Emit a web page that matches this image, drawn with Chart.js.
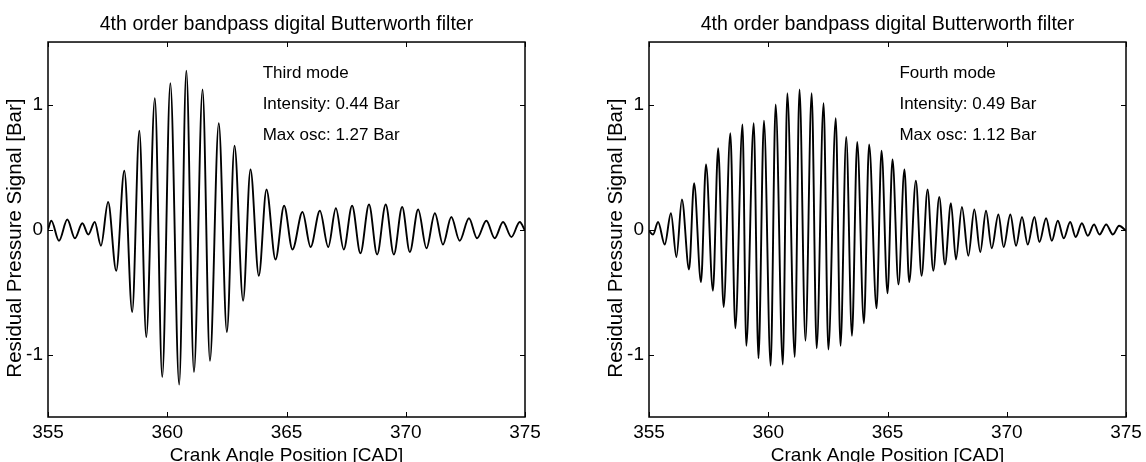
<!DOCTYPE html>
<html lang="en">
<head>
  <meta charset="UTF-8">
  <title>4th order bandpass digital Butterworth filter</title>
  <script src="https://cdn.jsdelivr.net/npm/chart.js"></script>
  <style>
    html, body { margin: 0; padding: 0; background: #fff; overflow: hidden; }
    canvas { position: absolute; top: 0; }
    #third { left: 0; }
    #fourth { left: 601px; }
  </style>
</head>
<body>
  <canvas id="third" width="573" height="462"></canvas>
  <canvas id="fourth" width="573" height="462"></canvas>

  <script>
    // peaks and troughs (CAD, bar)
    const thirdCad = [355.0, 355.14, 355.46, 355.81, 356.13, 356.44, 356.69, 356.96, 357.22, 357.52,
      357.86, 358.20, 358.53, 358.83, 359.12, 359.48, 359.79, 360.13, 360.50, 360.80,
      361.12, 361.48, 361.79, 362.16, 362.50, 362.82, 363.18, 363.49, 363.84, 364.16,
      364.54, 364.90, 365.25, 365.67, 366.01, 366.40, 366.75, 367.07, 367.40, 367.75,
      368.10, 368.46, 368.80, 369.16, 369.50, 369.85, 370.17, 370.52, 370.87, 371.22,
      371.56, 371.91, 372.26, 372.65, 372.99, 373.38, 373.73, 374.08, 374.43, 374.78, 375.0];
    const thirdVal = [0.0, 0.07, -0.09, 0.08, -0.07, 0.05, -0.04, 0.06, -0.13, 0.22,
      -0.33, 0.47, -0.66, 0.79, -0.86, 1.05, -1.18, 1.17, -1.24, 1.27,
      -1.14, 1.12, -1.05, 0.85, -0.82, 0.67, -0.57, 0.48, -0.37, 0.32,
      -0.24, 0.19, -0.16, 0.14, -0.14, 0.15, -0.14, 0.17, -0.16, 0.19,
      -0.19, 0.20, -0.20, 0.20, -0.20, 0.18, -0.18, 0.16, -0.15, 0.13,
      -0.12, 0.10, -0.09, 0.09, -0.07, 0.07, -0.07, 0.06, -0.06, 0.06, -0.01];

    const fourthCad = [355.00, 355.17, 355.38, 355.66, 355.92, 356.15, 356.38, 356.68, 356.89, 357.18,
      357.39, 357.68, 357.90, 358.13, 358.41, 358.62, 358.92, 359.08, 359.39, 359.59,
      359.82, 360.10, 360.31, 360.61, 360.80, 361.11, 361.31, 361.56, 361.82, 362.03,
      362.32, 362.52, 362.83, 363.03, 363.27, 363.51, 363.73, 364.01, 364.23, 364.54,
      364.75, 365.00, 365.21, 365.46, 365.71, 365.91, 366.19, 366.43, 366.68, 366.92,
      367.17, 367.41, 367.66, 367.87, 368.12, 368.39, 368.64, 368.89, 369.13, 369.37,
      369.65, 369.87, 370.15, 370.39, 370.64, 370.88, 371.16, 371.37, 371.65, 371.89,
      372.14, 372.39, 372.66, 372.89, 373.15, 373.40, 373.66, 373.89, 374.17, 374.45,
      374.71, 375.00];
    const fourthVal = [-0.01, -0.04, 0.06, -0.12, 0.13, -0.22, 0.24, -0.32, 0.37, -0.42,
      0.52, -0.49, 0.65, -0.62, 0.77, -0.79, 0.84, -0.93, 0.85, -1.03,
      0.87, -1.09, 1.00, -1.08, 1.09, -1.02, 1.12, -0.89, 1.09, -0.95,
      1.01, -0.96, 0.89, -0.93, 0.74, -0.85, 0.70, -0.75, 0.68, -0.63,
      0.63, -0.51, 0.56, -0.44, 0.48, -0.42, 0.39, -0.37, 0.32, -0.33,
      0.26, -0.28, 0.21, -0.24, 0.18, -0.21, 0.16, -0.18, 0.15, -0.15,
      0.12, -0.14, 0.12, -0.13, 0.10, -0.12, 0.10, -0.10, 0.09, -0.09,
      0.07, -0.07, 0.06, -0.06, 0.05, -0.05, 0.04, -0.04, 0.04, -0.04,
      0.03, -0.01];

    const xTicks = [355, 360, 365, 370, 375];
    const yTicks = [-1, 0, 1];
    const thirdNotes = ['Third mode', 'Intensity: 0.44 Bar', 'Max osc: 1.27 Bar'];
    const fourthNotes = ['Fourth mode', 'Intensity: 0.49 Bar', 'Max osc: 1.12 Bar'];
    const noteRows = [1.25, 1.0, 0.75];

    const FAMILY = '"Liberation Sans", Arial, Helvetica, sans-serif';
    const big = { family: FAMILY, size: 19, weight: 'normal', lineHeight: 1.2 };

    // box, inward tick marks and the text notes
    const framePlugin = {
      id: 'frame',
      afterDraw(chart, args, opts) {
        const { ctx, chartArea: a, scales: { x, y } } = chart;
        ctx.save();
        ctx.strokeStyle = '#000';
        ctx.lineWidth = 1.5;
        ctx.strokeRect(a.left, a.top, a.width, a.height);
        ctx.lineWidth = 1;
        ctx.beginPath();
        x.ticks.forEach(t => {
          const px = Math.round(x.getPixelForValue(t.value)) + 0.5;
          ctx.moveTo(px, a.bottom); ctx.lineTo(px, a.bottom - 5);
          ctx.moveTo(px, a.top); ctx.lineTo(px, a.top + 5);
        });
        y.ticks.forEach(t => {
          const py = Math.round(y.getPixelForValue(t.value)) + 0.5;
          ctx.moveTo(a.left, py); ctx.lineTo(a.left + 5, py);
          ctx.moveTo(a.right, py); ctx.lineTo(a.right - 5, py);
        });
        ctx.stroke();

        ctx.fillStyle = '#000';
        ctx.font = '17px ' + FAMILY;
        ctx.textAlign = 'left';
        ctx.textBaseline = 'middle';
        opts.notes.forEach((s, i) => {
          ctx.fillText(s, x.getPixelForValue(opts.at), y.getPixelForValue(noteRows[i]));
        });
        ctx.restore();
      }
    };

    function makeChart(id, cad, vals, notes, noteAt) {
      const ctx = document.getElementById(id).getContext('2d');
      return new Chart(ctx, {
        type: 'line',
        data: {
          datasets: [{
            data: cad.map((c, i) => ({ x: c, y: vals[i] })),
            borderColor: '#000',
            borderWidth: 1.9,
            pointRadius: 0,
            cubicInterpolationMode: 'monotone',
            fill: false
          }]
        },
        options: {
          responsive: false,
          animation: false,
          events: [],
          layout: { padding: { left: 0, right: 48, top: 0, bottom: 0 } },
          plugins: {
            legend: { display: false },
            tooltip: { enabled: false },
            title: {
              display: true,
              fullSize: false,
              text: '4th order bandpass digital Butterworth filter',
              color: '#000',
              font: { family: FAMILY, size: 19.6, weight: 'normal', lineHeight: 1.2 },
              padding: { top: 13.2, bottom: 5.3 }
            },
            frame: { notes: notes, at: noteAt }
          },
          scales: {
            x: {
              type: 'linear',
              min: 355,
              max: 375,
              afterBuildTicks: s => { s.ticks = xTicks.map(v => ({ value: v })); },
              ticks: { color: '#000', font: big, padding: 4.8, maxRotation: 0 },
              grid: { display: false, drawTicks: false },
              border: { display: false },
              title: {
                display: true,
                text: 'Crank Angle Position [CAD]',
                color: '#000',
                font: big,
                padding: { top: 0, bottom: -5.5 }
              },
              afterFit: s => { s.height = 45; }
            },
            y: {
              min: -1.5,
              max: 1.5,
              afterBuildTicks: s => { s.ticks = yTicks.map(v => ({ value: v })); },
              ticks: { color: '#000', font: big, padding: 5 },
              grid: { display: false, drawTicks: false },
              border: { display: false },
              title: {
                display: true,
                // trailing spaces push the label a little below the axis centre, as in the figure
                text: 'Residual Pressure Signal [Bar]   ',
                color: '#000',
                font: { family: FAMILY, size: 20.5, weight: 'normal', lineHeight: 1.2 },
                padding: { top: 3, bottom: 0 }
              },
              afterFit: s => { s.width = 48; }
            }
          }
        },
        plugins: [framePlugin]
      });
    }

    makeChart('third', thirdCad, thirdVal, thirdNotes, 364);
    makeChart('fourth', fourthCad, fourthVal, fourthNotes, 365.5);
  </script>
</body>
</html>
